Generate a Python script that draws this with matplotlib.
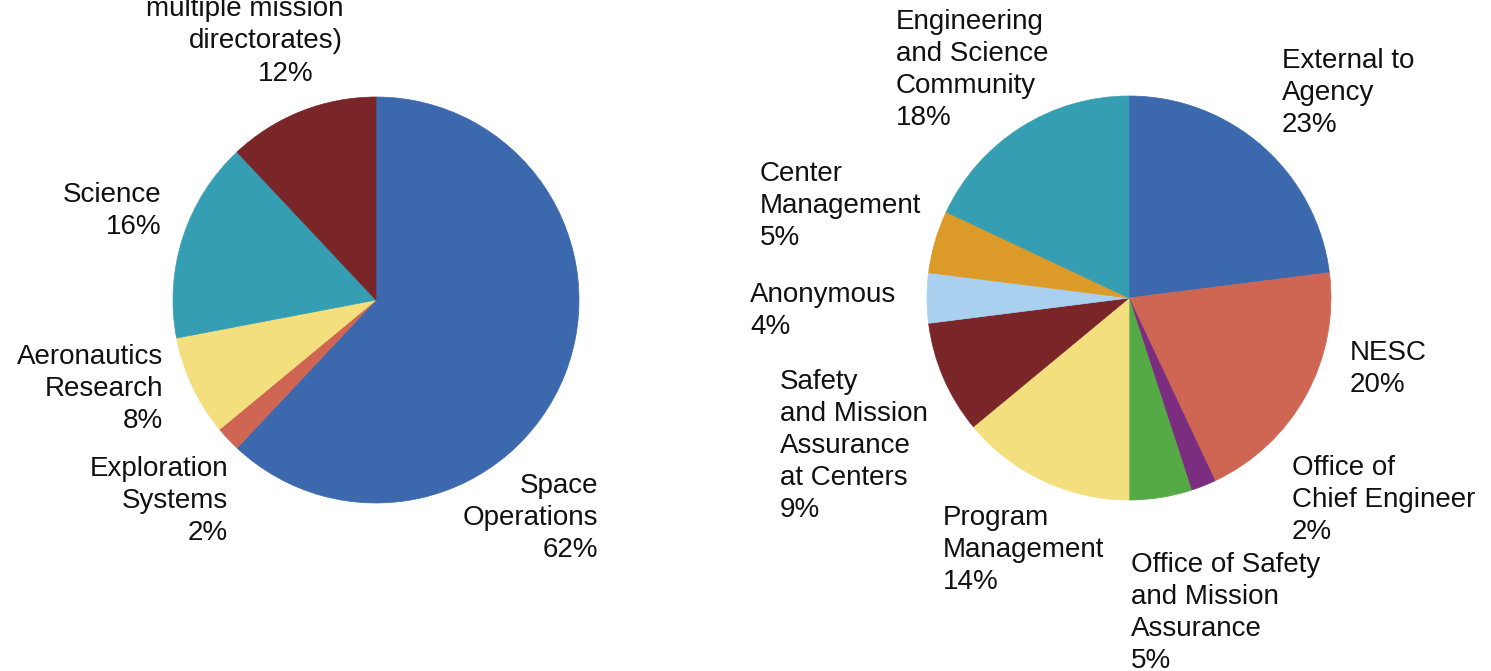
import matplotlib.pyplot as plt

# left pie: requests by mission directorate
left_labels = ["Space\nOperations", "Exploration\nSystems", "Aeronautics\nResearch",
               "Science", "multiple mission\ndirectorates)"]
left_values = [62, 2, 8, 16, 12]
left_colors = ["#3c69ad", "#cf6654", "#f3df7e", "#369eb3", "#7a2528"]

# right pie: requests by source
right_labels = ["External to\nAgency", "NESC", "Office of\nChief Engineer",
                "Office of Safety\nand Mission\nAssurance", "Program\nManagement",
                "Safety\nand Mission\nAssurance\nat Centers", "Anonymous",
                "Center\nManagement", "Engineering\nand Science\nCommunity"]
right_values = [23, 20, 2, 5, 14, 9, 4, 5, 18]
right_colors = ["#3c69ad", "#cf6654", "#7b2d80", "#55aa45", "#f3df7e",
                "#7a2528", "#aad0f0", "#dc9a29", "#369eb3"]

W, H = 1491, 671
plt.rcParams['font.family'] = ['Liberation Sans', 'DejaVu Sans']
fig = plt.figure(figsize=(W / 100, H / 100), dpi=100)


def pie_axes(cx, cy, r):
    ax = fig.add_axes([(cx - r) / W, (H - cy - r) / H, 2 * r / W, 2 * r / H])
    return ax


def draw(ax, values, colors):
    wedges, _ = ax.pie(values, colors=colors, startangle=90, counterclock=False,
                       radius=1, center=(0, 0), frame=True)
    for w, c in zip(wedges, colors):
        w.set_edgecolor(c)
        w.set_linewidth(0.5)
    ax.set_xlim(-1, 1)
    ax.set_ylim(-1, 1)
    ax.axis('off')


def label(text, x, y, ha):
    # x, y in pixels, y = baseline of last line
    fig.text(x / W, 1 - y / H, text, ha=ha, va='baseline', multialignment=ha,
             fontsize=20, linespacing=1.3, color='#111111')


ax1 = pie_axes(376, 300, 203)
draw(ax1, left_values, left_colors)
ax2 = pie_axes(1129, 298, 202)
draw(ax2, right_values, right_colors)

# left labels (right aligned), value on the last line
left_pos = [(598, 557), (228, 540), (163, 428), (161, 234), (343, 48)]
for lab, v, (x, y) in zip(left_labels, left_values, left_pos):
    if lab.startswith("multiple"):
        label(lab, x, y, 'right')
        label(f"{v}%", 313, 81, 'right')
    else:
        label(f"{lab}\n{v}%", x, y, 'right')

right_pos = [(1282, 132), (1350, 392), (1292, 539), (1131, 668), (943, 589),
             (780, 517), (750, 334), (760, 245), (896, 125)]
for lab, v, (x, y) in zip(right_labels, right_values, right_pos):
    label(f"{lab}\n{v}%", x, y, 'left')

fig.savefig("out.png", dpi=100)
